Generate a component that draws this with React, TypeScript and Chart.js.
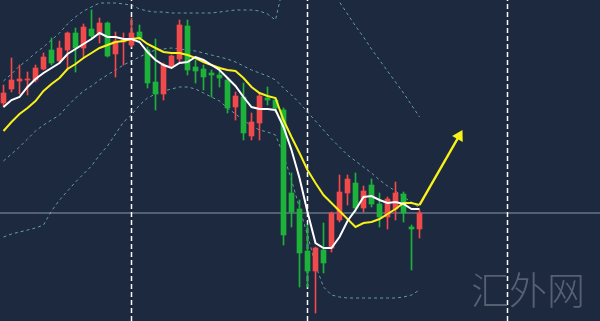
import { useEffect, useRef } from "react";
import { Chart, registerables } from "chart.js";

Chart.register(...registerables);

// Candle OHLC values (price units), one entry per candle
const opens = [218, 232, 240, 241, 241, 252, 271, 260, 271, 288, 273, 292, 288, 298, 267, 279, 276, 289, 271, 239, 227, 255, 262, 295, 254, 252, 248, 246, 241, 214, 224, 185, 198, 223, 221, 211, 128, 112, 70, 50, 71, 73, 101, 128, 138, 113, 136, 117, 104, 112, 127, 94, 92];
const closes = [228, 241, 242, 242, 253, 264, 258, 273, 288, 273, 294, 285, 298, 265, 280, 281, 288, 283, 238, 227, 256, 265, 296, 251, 250, 244, 246, 243, 213, 225, 188, 199, 225, 221, 213, 86, 109, 68, 50, 73, 58, 108, 129, 142, 113, 130, 117, 104, 122, 128, 108, 92, 108];
const highs = [236, 263, 256, 249, 256, 268, 283, 280, 289, 293, 297, 311, 303, 299, 289, 288, 303, 296, 274, 282, 258, 266, 301, 301, 261, 256, 251, 254, 243, 229, 238, 208, 228, 234, 223, 213, 148, 121, 96, 74, 98, 109, 146, 146, 148, 135, 142, 128, 124, 139, 129, 96, 111];
const lows = [214, 229, 227, 226, 239, 251, 256, 258, 251, 249, 264, 283, 278, 264, 244, 256, 274, 281, 233, 211, 221, 254, 259, 246, 238, 231, 224, 234, 208, 201, 181, 181, 181, 216, 209, 76, 94, 34, 34, 8, 48, 69, 99, 116, 109, 109, 114, 94, 92, 101, 99, 51, 83];

// Moving averages
const maFast = [214, 221, 224, 234, 242, 248, 253, 258, 267, 272, 277, 282, 288, 284, 284, 282, 282, 279, 269, 261, 256, 253, 258, 259, 264, 261, 256, 251, 243, 235, 224, 214, 212, 212, 211, 194, 171, 143, 109, 78, 73, 73, 84, 100, 111, 124, 125, 121, 118, 119, 117, 112, 112];
const maSlow = [190, 199, 207, 213, 220, 230, 237, 243, 252, 257, 263, 268, 273, 276, 279, 280, 282, 283, 277, 273, 269, 268, 268, 266, 263, 259, 256, 253, 251, 250, 243, 234, 228, 225, 223, 201, 184, 168, 151, 138, 126, 118, 110, 102, 94, 98, 99, 102, 107, 112, 118, 118, 116];

// Bollinger bands
const bandUpper = [240, 247, 255, 261, 268, 274, 281, 288, 297, 304, 310, 314, 318, 318, 318, 317, 316, 312, 310, 309, 309, 308, 308, 308, 308, 308, 308, 309, 310, 311, 311, 311, 310, 307, 301, 336, 356, 371, 376, 371, 356, 336, 319, 307, 295, 284, 272, 261, 250, 239, 228, 216, 204];
const bandMiddle = [160, 167, 174, 182, 190, 196, 201, 206, 215, 223, 230, 235, 241, 246, 251, 256, 260, 264, 268, 271, 272, 273, 272, 271, 270, 268, 266, 264, 262, 259, 255, 251, 248, 245, 241, 233, 226, 218, 209, 200, 191, 182, 174, 166, 160, 154, 148, 141, 135, 130, 124, 119, 113];
const bandLower = [84, 87, 89, 91, 93, 96, 110, 121, 130, 139, 147, 155, 166, 175, 187, 199, 206, 216, 223, 227, 230, 232, 234, 234, 232, 228, 224, 220, 213, 207, 201, 195, 191, 189, 186, 166, 141, 113, 86, 56, 34, 26, 24, 23, 23, 23, 23, 23, 23, 23, 24, 26, 31];

// Annotations
const forecastArrow = [
  { x: 52, y: 116 },
  { x: 56.95, y: 185 },
];
const sessionBreaks = [16, 38, 63];
const referenceLevel = 108;

const BG = "rgb(28,41,63)";
const RED = "#f04a4a";
const GREEN = "#1db23a";
const YELLOW = "#f8f21a";
const BAND = "rgba(120,185,190,0.8)";
const X_MIN = -0.4375;
const X_MAX = 74.5625;

export default function App() {
  const ref = useRef<HTMLCanvasElement>(null);

  useEffect(() => {
    if (!ref.current) return;
    const idx = opens.map((_, i) => i);
    const colors = idx.map((i) => (closes[i] >= opens[i] ? RED : GREEN));
    const toPts = (arr: number[]) => arr.map((v, i) => ({ x: i, y: v }));

    const lineBase = {
      type: "line" as const,
      pointRadius: 0,
      fill: false,
      tension: 0,
    };

    const datasets: any[] = [
      {
        ...lineBase,
        data: forecastArrow,
        borderColor: YELLOW,
        backgroundColor: YELLOW,
        borderWidth: 2.5,
        pointRadius: [0, 7],
        pointStyle: "triangle",
        pointRotation: [0, 29],
        pointBorderWidth: 0,
        order: 0,
      },
      {
        ...lineBase,
        data: toPts(maFast),
        borderColor: "#ffffff",
        borderWidth: 2,
        order: 1,
      },
      {
        ...lineBase,
        data: toPts(maSlow),
        borderColor: YELLOW,
        borderWidth: 2,
        order: 2,
      },
      {
        type: "bar",
        data: idx.map((i) => ({ x: i, y: [opens[i], closes[i]] })),
        backgroundColor: colors,
        borderWidth: 0,
        barThickness: 5,
        grouped: false,
        order: 3,
      },
      {
        type: "bar",
        data: idx.map((i) => ({ x: i, y: [lows[i], highs[i]] })),
        backgroundColor: colors,
        borderWidth: 0,
        barThickness: 1,
        grouped: false,
        order: 4,
      },
      ...[bandUpper, bandMiddle, bandLower].map((b) => ({
        ...lineBase,
        data: toPts(b),
        borderColor: BAND,
        borderWidth: 1,
        borderDash: [3, 3],
        order: 5,
      })),
      ...sessionBreaks.map((x) => ({
        ...lineBase,
        data: [
          { x, y: 0 },
          { x, y: 321 },
        ],
        borderColor: "#ffffff",
        borderWidth: 1.5,
        borderDash: [5, 3],
        order: 6,
      })),
      {
        ...lineBase,
        data: [
          { x: X_MIN, y: referenceLevel },
          { x: X_MAX, y: referenceLevel },
        ],
        borderColor: "rgba(160,172,188,0.85)",
        borderWidth: 1,
        order: 7,
      },
    ];

    const chart = new Chart(ref.current, {
      type: "bar",
      data: { datasets },
      options: {
        animation: false,
        responsive: false,
        devicePixelRatio: 1,
        layout: { padding: 0, autoPadding: false },
        events: [],
        plugins: { legend: { display: false }, tooltip: { enabled: false } },
        scales: {
          x: { type: "linear", min: X_MIN, max: X_MAX, display: false, offset: false },
          y: { type: "linear", min: 0, max: 321, display: false },
        },
      },
    });
    return () => chart.destroy();
  }, []);

  return (
    <div
      style={{
        position: "fixed",
        left: 0,
        top: 0,
        width: 600,
        height: 321,
        background: BG,
        overflow: "hidden",
      }}
    >
      <canvas ref={ref} width={600} height={321} style={{ display: "block", width: 600, height: 321 }} />
      <div
        style={{
          position: "absolute",
          left: 471,
          top: 269,
          fontFamily: '"Noto Sans CJK SC", sans-serif',
          fontWeight: 300,
          fontSize: 38,
          lineHeight: 1,
          color: "rgba(100,110,126,0.8)",
          whiteSpace: "nowrap",
          pointerEvents: "none",
        }}
      >
        汇外网
      </div>
    </div>
  );
}
